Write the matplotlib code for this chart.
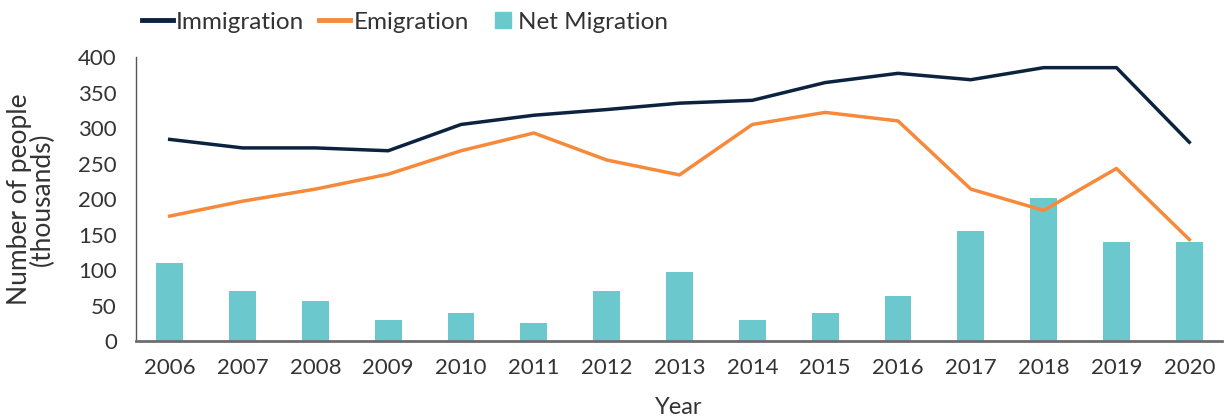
import numpy as np
import matplotlib.pyplot as plt
from matplotlib.lines import Line2D
from matplotlib.patches import Patch, Rectangle
from matplotlib.legend_handler import HandlerPatch

plt.rcParams['font.family'] = ['Lato', 'DejaVu Sans']

years = ['2006', '2007', '2008', '2009', '2010', '2011', '2012', '2013',
         '2014', '2015', '2016', '2017', '2018', '2019', '2020']
immigration = [284, 272, 272, 268, 305, 318, 326, 335, 339, 364, 377, 368, 385, 385, 280]
emigration = [176, 197, 214, 235, 268, 293, 255, 234, 305, 322, 310, 214, 184, 243, 143]
net_migration = [110, 71, 56, 30, 39, 26, 71, 97, 30, 39, 64, 155, 201, 140, 140]

navy = '#0c2340'
orange = '#f6893a'
teal = '#6bc9ce'
text_col = '#333333'


def square_patch(legend, orig_handle, xdescent, ydescent, width, height, fontsize):
    # square legend key, close to its label
    side = 11.5
    return Rectangle((width - side - 3 - xdescent, (height - side) / 2 - ydescent),
                     side, side)


fig = plt.figure(figsize=(12.27, 4.16), dpi=100)
ax = fig.add_axes([0.111, 0.180, 0.885, 0.683])

x = np.arange(len(years))
ax.bar(x, net_migration, width=0.37, color=teal, zorder=1)
ax.plot(x, immigration, color=navy, lw=2.5, zorder=3)
ax.plot(x, emigration, color=orange, lw=2.5, zorder=2)

ax.set_xlim(-0.46, 14.45)
ax.set_ylim(0, 400)
ax.set_yticks(range(0, 401, 50))
ax.set_xticks(x)
ax.set_xticklabels(years)
ax.tick_params(axis='both', length=0, labelsize=16, colors=text_col)
ax.tick_params(axis='x', pad=12)
ax.tick_params(axis='y', pad=14)

for s in ['top', 'right']:
    ax.spines[s].set_visible(False)
ax.spines['left'].set_color('#555555')
ax.spines['left'].set_linewidth(1.0)
ax.spines['bottom'].set_color('#6e6e6e')
ax.spines['bottom'].set_linewidth(2.0)

# y label placed by hand, larger than the tick labels
fig.text(0.025, 0.522, 'Number of people\n(thousands)', rotation=90,
         ha='center', va='center', multialignment='center',
         fontsize=19, color=text_col, linespacing=0.9)
ax.set_xlabel('Year', fontsize=17, color=text_col, labelpad=14)

net_handle = Patch(color=teal)
handles = [
    Line2D([0], [0], color=navy, lw=3.5),
    Line2D([0], [0], color=orange, lw=3.5),
    net_handle,
]
fig.legend(handles, ['Immigration', 'Emigration', 'Net Migration'],
           loc='upper left', bbox_to_anchor=(0.0975, 1.025), ncol=3,
           frameon=False, fontsize=17.5, labelcolor=text_col,
           handlelength=1.3, handletextpad=0.12, columnspacing=0.6,
           handleheight=0.75,
           handler_map={net_handle: HandlerPatch(patch_func=square_patch)})

plt.savefig('out.png', dpi=100)
plt.close()
